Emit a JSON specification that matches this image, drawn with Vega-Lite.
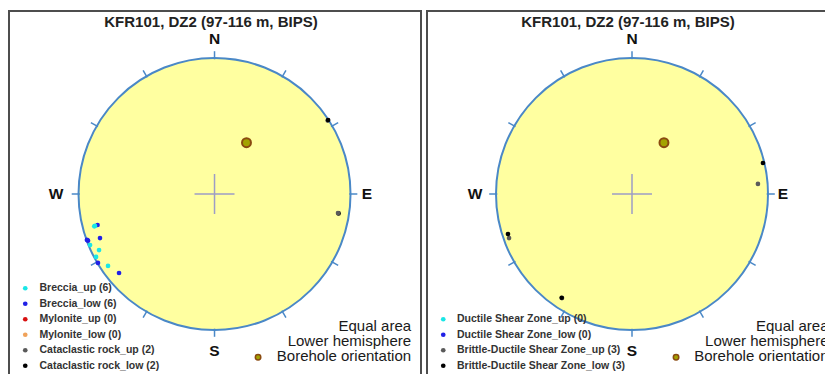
{
  "$schema": "https://vega.github.io/schema/vega-lite/v6.json",
  "background": "white",
  "padding": {"left": 8, "top": 10, "right": 0, "bottom": 0},
  "spacing": 4,
  "config": {
    "view": {"stroke": "#4d4d4d", "strokeWidth": 2},
    "font": "Liberation Sans",
    "legend": {"padding": 0}
  },
  "datasets": {
    "origin": [{"x": 0, "y": 0}],
    "ticks": [
      {"x": 0, "y": 0.99, "x2": 0, "y2": 1.05},
      {"x": 0.495, "y": 0.857, "x2": 0.525, "y2": 0.909},
      {"x": 0.857, "y": 0.495, "x2": 0.909, "y2": 0.525},
      {"x": 0.99, "y": 0, "x2": 1.05, "y2": 0},
      {"x": 0.857, "y": -0.495, "x2": 0.909, "y2": -0.525},
      {"x": 0.495, "y": -0.857, "x2": 0.525, "y2": -0.909},
      {"x": 0, "y": -0.99, "x2": 0, "y2": -1.05},
      {"x": -0.495, "y": -0.857, "x2": -0.525, "y2": -0.909},
      {"x": -0.857, "y": -0.495, "x2": -0.909, "y2": -0.525},
      {"x": -0.99, "y": 0, "x2": -1.05, "y2": 0},
      {"x": -0.857, "y": 0.495, "x2": -0.909, "y2": 0.525},
      {"x": -0.495, "y": 0.857, "x2": -0.525, "y2": 0.909}
    ],
    "cross": [
      {"x": -0.147, "y": 0, "x2": 0.147, "y2": 0},
      {"x": 0, "y": -0.147, "x2": 0, "y2": 0.147}
    ],
    "dirsL": [
      {"t": "N", "x": 0, "y": 1.14},
      {"t": "S", "x": 0, "y": -1.154},
      {"t": "W", "x": -1.165, "y": 0},
      {"t": "E", "x": 1.12, "y": 0}
    ],
    "dirsR": [
      {"t": "N", "x": 0, "y": 1.14},
      {"t": "S", "x": 0, "y": -1.154},
      {"t": "W", "x": -1.154, "y": 0},
      {"t": "E", "x": 1.11, "y": 0}
    ],
    "titleL": [{"t": "KFR101, DZ2 (97-116 m, BIPS)", "x": -0.026, "y": 1.265}],
    "titleR": [{"t": "KFR101, DZ2 (97-116 m, BIPS)", "x": -0.03, "y": 1.265}],
    "notes": [
      {"t": "Equal area", "x": 1.445, "y": -0.971},
      {"t": "Lower hemisphere", "x": 1.445, "y": -1.081},
      {"t": "Borehole orientation", "x": 1.445, "y": -1.191}
    ],
    "borehole": [{"x": 0.235, "y": 0.377}],
    "boreholeKeyL": [{"x": 0.32, "y": -1.2}],
    "boreholeKeyR": [{"x": 0.324, "y": -1.2}],
    "pointsL": [
      {"s": "Cataclastic rock_up (2)", "x": 0.832, "y": 0.540},
      {"s": "Cataclastic rock_low (2)", "x": 0.835, "y": 0.544},
      {"s": "Cataclastic rock_low (2)", "x": 0.912, "y": -0.143},
      {"s": "Cataclastic rock_up (2)", "x": 0.908, "y": -0.140},
      {"s": "Breccia_low (6)", "x": -0.860, "y": -0.228},
      {"s": "Breccia_low (6)", "x": -0.842, "y": -0.324},
      {"s": "Breccia_low (6)", "x": -0.938, "y": -0.338},
      {"s": "Breccia_low (6)", "x": -0.857, "y": -0.507},
      {"s": "Breccia_low (6)", "x": -0.702, "y": -0.581},
      {"s": "Breccia_low (6)", "x": -0.930, "y": -0.343},
      {"s": "Breccia_up (6)", "x": -0.879, "y": -0.235},
      {"s": "Breccia_up (6)", "x": -0.915, "y": -0.375},
      {"s": "Breccia_up (6)", "x": -0.849, "y": -0.412},
      {"s": "Breccia_up (6)", "x": -0.871, "y": -0.463},
      {"s": "Breccia_up (6)", "x": -0.783, "y": -0.529},
      {"s": "Breccia_up (6)", "x": -0.884, "y": -0.238}
    ],
    "pointsR": [
      {"s": "Brittle-Ductile Shear Zone_up (3)", "x": 0.926, "y": 0.074},
      {"s": "Brittle-Ductile Shear Zone_up (3)", "x": -0.904, "y": -0.324},
      {"s": "Brittle-Ductile Shear Zone_up (3)", "x": -0.515, "y": -0.765},
      {"s": "Brittle-Ductile Shear Zone_low (3)", "x": 0.963, "y": 0.228},
      {"s": "Brittle-Ductile Shear Zone_low (3)", "x": -0.912, "y": -0.294},
      {"s": "Brittle-Ductile Shear Zone_low (3)", "x": -0.517, "y": -0.763}
    ]
  },
  "resolve": {
    "scale": {"x": "independent", "y": "independent", "color": "independent", "size": "independent"},
    "legend": {"color": "independent", "size": "independent"}
  },
  "hconcat": [
    {
      "width": 412,
      "height": 364,
      "layer": [
        {
          "data": {"name": "origin"},
          "mark": {"type": "point", "shape": "circle", "filled": true, "size": 73984, "fill": "#ffffa0", "stroke": "#4a88c7", "strokeWidth": 2, "opacity": 1},
          "encoding": {
            "x": {"field": "x", "type": "quantitative", "scale": {"domain": [-1.511, 1.518], "nice": false, "zero": false}, "axis": null},
            "y": {"field": "y", "type": "quantitative", "scale": {"domain": [-1.3309, 1.3456], "nice": false, "zero": false}, "axis": null}
          }
        },
        {
          "data": {"name": "ticks"},
          "mark": {"type": "rule", "color": "#4a88c7", "strokeWidth": 1.5},
          "encoding": {
            "x": {"field": "x", "type": "quantitative"},
            "y": {"field": "y", "type": "quantitative"},
            "x2": {"field": "x2"},
            "y2": {"field": "y2"}
          }
        },
        {
          "data": {"name": "cross"},
          "mark": {"type": "rule", "color": "#9d9dc6", "strokeWidth": 1.5},
          "encoding": {
            "x": {"field": "x", "type": "quantitative"},
            "y": {"field": "y", "type": "quantitative"},
            "x2": {"field": "x2"},
            "y2": {"field": "y2"}
          }
        },
        {
          "data": {"name": "dirsL"},
          "mark": {"type": "text", "fontSize": 15.5, "fontWeight": "bold", "color": "#111", "align": "center", "baseline": "middle"},
          "encoding": {
            "x": {"field": "x", "type": "quantitative"},
            "y": {"field": "y", "type": "quantitative"},
            "text": {"field": "t"}
          }
        },
        {
          "data": {"name": "titleL"},
          "mark": {"type": "text", "fontSize": 15, "fontWeight": "bold", "color": "#222", "align": "center", "baseline": "middle"},
          "encoding": {
            "x": {"field": "x", "type": "quantitative"},
            "y": {"field": "y", "type": "quantitative"},
            "text": {"field": "t"}
          }
        },
        {
          "data": {"name": "notes"},
          "mark": {"type": "text", "fontSize": 15, "color": "#1a1a1a", "align": "right", "baseline": "middle"},
          "encoding": {
            "x": {"field": "x", "type": "quantitative"},
            "y": {"field": "y", "type": "quantitative"},
            "text": {"field": "t"}
          }
        },
        {
          "data": {"name": "boreholeKeyL"},
          "mark": {"type": "point", "shape": "circle", "filled": true, "size": 30, "fill": "#a3a300", "stroke": "#8a4a10", "strokeWidth": 1.5, "opacity": 1},
          "encoding": {
            "x": {"field": "x", "type": "quantitative"},
            "y": {"field": "y", "type": "quantitative"}
          }
        },
        {
          "data": {"name": "borehole"},
          "mark": {"type": "point", "shape": "circle", "filled": true, "size": 80, "fill": "#a3a300", "stroke": "#8a4a10", "strokeWidth": 2, "opacity": 1},
          "encoding": {
            "x": {"field": "x", "type": "quantitative"},
            "y": {"field": "y", "type": "quantitative"}
          }
        },
        {
          "data": {"name": "pointsL"},
          "mark": {"type": "point", "shape": "circle", "filled": true, "opacity": 1},
          "encoding": {
            "x": {"field": "x", "type": "quantitative"},
            "y": {"field": "y", "type": "quantitative"},
            "color": {
              "field": "s", "type": "nominal",
              "scale": {
                "domain": ["Breccia_up (6)", "Breccia_low (6)", "Mylonite_up (0)", "Mylonite_low (0)", "Cataclastic rock_up (2)", "Cataclastic rock_low (2)"],
                "range": ["#19e6e6", "#2020e6", "#d81010", "#f0a25a", "#5a5a5a", "#000000"]
              },
              "legend": {
                "orient": "none", "legendX": 11, "legendY": 272, "title": null,
                "labelFontSize": 10.5, "labelFontWeight": "bold", "labelColor": "#333", "labelLimit": 300,
                "labelFont": "Liberation Sans", "labelOffset": 9, "rowPadding": 4.5, "symbolType": "circle"
              }
            },
            "size": {
              "field": "s", "type": "nominal",
              "scale": {
                "domain": ["Breccia_up (6)", "Breccia_low (6)", "Mylonite_up (0)", "Mylonite_low (0)", "Cataclastic rock_up (2)", "Cataclastic rock_low (2)"],
                "range": [22, 22, 22, 22, 12, 16]
              },
              "legend": {
                "orient": "none", "legendX": 11, "legendY": 272, "title": null,
                "labelFontSize": 10.5, "labelFontWeight": "bold", "labelColor": "#333", "labelLimit": 300,
                "labelFont": "Liberation Sans", "labelOffset": 9, "rowPadding": 4.5, "symbolType": "circle"
              }
            }
          }
        }
      ]
    },
    {
      "width": 401,
      "height": 364,
      "layer": [
        {
          "data": {"name": "origin"},
          "mark": {"type": "point", "shape": "circle", "filled": true, "size": 73984, "fill": "#ffffa0", "stroke": "#4a88c7", "strokeWidth": 2, "opacity": 1},
          "encoding": {
            "x": {"field": "x", "type": "quantitative", "scale": {"domain": [-1.5074, 1.4412], "nice": false, "zero": false}, "axis": null},
            "y": {"field": "y", "type": "quantitative", "scale": {"domain": [-1.3309, 1.3456], "nice": false, "zero": false}, "axis": null}
          }
        },
        {
          "data": {"name": "ticks"},
          "mark": {"type": "rule", "color": "#4a88c7", "strokeWidth": 1.5},
          "encoding": {
            "x": {"field": "x", "type": "quantitative"},
            "y": {"field": "y", "type": "quantitative"},
            "x2": {"field": "x2"},
            "y2": {"field": "y2"}
          }
        },
        {
          "data": {"name": "cross"},
          "mark": {"type": "rule", "color": "#9d9dc6", "strokeWidth": 1.5},
          "encoding": {
            "x": {"field": "x", "type": "quantitative"},
            "y": {"field": "y", "type": "quantitative"},
            "x2": {"field": "x2"},
            "y2": {"field": "y2"}
          }
        },
        {
          "data": {"name": "dirsR"},
          "mark": {"type": "text", "fontSize": 15.5, "fontWeight": "bold", "color": "#111", "align": "center", "baseline": "middle"},
          "encoding": {
            "x": {"field": "x", "type": "quantitative"},
            "y": {"field": "y", "type": "quantitative"},
            "text": {"field": "t"}
          }
        },
        {
          "data": {"name": "titleR"},
          "mark": {"type": "text", "fontSize": 15, "fontWeight": "bold", "color": "#222", "align": "center", "baseline": "middle"},
          "encoding": {
            "x": {"field": "x", "type": "quantitative"},
            "y": {"field": "y", "type": "quantitative"},
            "text": {"field": "t"}
          }
        },
        {
          "data": {"name": "notes"},
          "mark": {"type": "text", "fontSize": 15, "color": "#1a1a1a", "align": "right", "baseline": "middle", "clip": true},
          "encoding": {
            "x": {"field": "x", "type": "quantitative"},
            "y": {"field": "y", "type": "quantitative"},
            "text": {"field": "t"}
          }
        },
        {
          "data": {"name": "boreholeKeyR"},
          "mark": {"type": "point", "shape": "circle", "filled": true, "size": 30, "fill": "#a3a300", "stroke": "#8a4a10", "strokeWidth": 1.5, "opacity": 1},
          "encoding": {
            "x": {"field": "x", "type": "quantitative"},
            "y": {"field": "y", "type": "quantitative"}
          }
        },
        {
          "data": {"name": "borehole"},
          "mark": {"type": "point", "shape": "circle", "filled": true, "size": 80, "fill": "#a3a300", "stroke": "#8a4a10", "strokeWidth": 2, "opacity": 1},
          "encoding": {
            "x": {"field": "x", "type": "quantitative"},
            "y": {"field": "y", "type": "quantitative"}
          }
        },
        {
          "data": {"name": "pointsR"},
          "mark": {"type": "point", "shape": "circle", "filled": true, "opacity": 1},
          "encoding": {
            "x": {"field": "x", "type": "quantitative"},
            "y": {"field": "y", "type": "quantitative"},
            "color": {
              "field": "s", "type": "nominal",
              "scale": {
                "domain": ["Ductile Shear Zone_up (0)", "Ductile Shear Zone_low (0)", "Brittle-Ductile Shear Zone_up (3)", "Brittle-Ductile Shear Zone_low (3)"],
                "range": ["#19e6e6", "#2020e6", "#5a5a5a", "#000000"]
              },
              "legend": {
                "orient": "none", "legendX": 11, "legendY": 303, "title": null,
                "labelFontSize": 10.5, "labelFontWeight": "bold", "labelColor": "#333", "labelLimit": 300,
                "labelFont": "Liberation Sans", "labelOffset": 8.5, "rowPadding": 4.5, "symbolType": "circle"
              }
            },
            "size": {
              "field": "s", "type": "nominal",
              "scale": {
                "domain": ["Ductile Shear Zone_up (0)", "Ductile Shear Zone_low (0)", "Brittle-Ductile Shear Zone_up (3)", "Brittle-Ductile Shear Zone_low (3)"],
                "range": [22, 22, 12, 16]
              },
              "legend": {
                "orient": "none", "legendX": 11, "legendY": 303, "title": null,
                "labelFontSize": 10.5, "labelFontWeight": "bold", "labelColor": "#333", "labelLimit": 300,
                "labelFont": "Liberation Sans", "labelOffset": 8.5, "rowPadding": 4.5, "symbolType": "circle"
              }
            }
          }
        }
      ]
    }
  ]
}
